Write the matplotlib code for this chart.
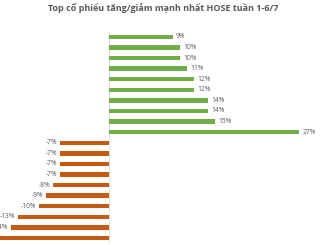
import matplotlib
matplotlib.use("Agg")
import matplotlib.pyplot as plt

# top gainers / losers, top to bottom as in the chart
gainers = [9, 10, 10, 11, 12, 12, 14, 14, 15, 27]
losers = [-7, -7, -7, -7, -8, -9, -10, -13, -14, -17]
values = gainers + losers
colors = ['#70AD47'] * len(gainers) + ['#C55A11'] * len(losers)

plt.rcParams['font.family'] = ['Open Sans', 'DejaVu Sans']

fig = plt.figure(figsize=(3.26, 2.45), dpi=100)
ax = fig.add_axes([0, 0.007, 1, 0.864])

y = range(len(values))
ax.barh(y, values, height=0.42, color=colors)
ax.set_ylim(len(values) - 0.5, -0.5)
ax.set_xlim(-15.5, 30.8)

for i, v in enumerate(values):
    if v >= 0:
        ax.text(v + 0.5, i, '%d%%' % v, va='center', ha='left',
                fontsize=4.9, color='#595959')
    else:
        ax.text(v - 0.4, i, '%d%%' % v, va='center', ha='right',
                fontsize=4.9, color='#595959')

ax.axvline(0, color='#D9D9D9', lw=0.6, zorder=0)
for s in ax.spines.values():
    s.set_visible(False)
ax.set_xticks([])
ax.set_yticks([])

fig.text(0.5, 0.965, 'Top cổ phiếu tăng/giảm mạnh nhất HOSE tuần 1-6/7',
         ha='center', va='center', fontsize=6.5, fontweight='bold',
         color='#595959')

fig.savefig('out.png', dpi=100)
